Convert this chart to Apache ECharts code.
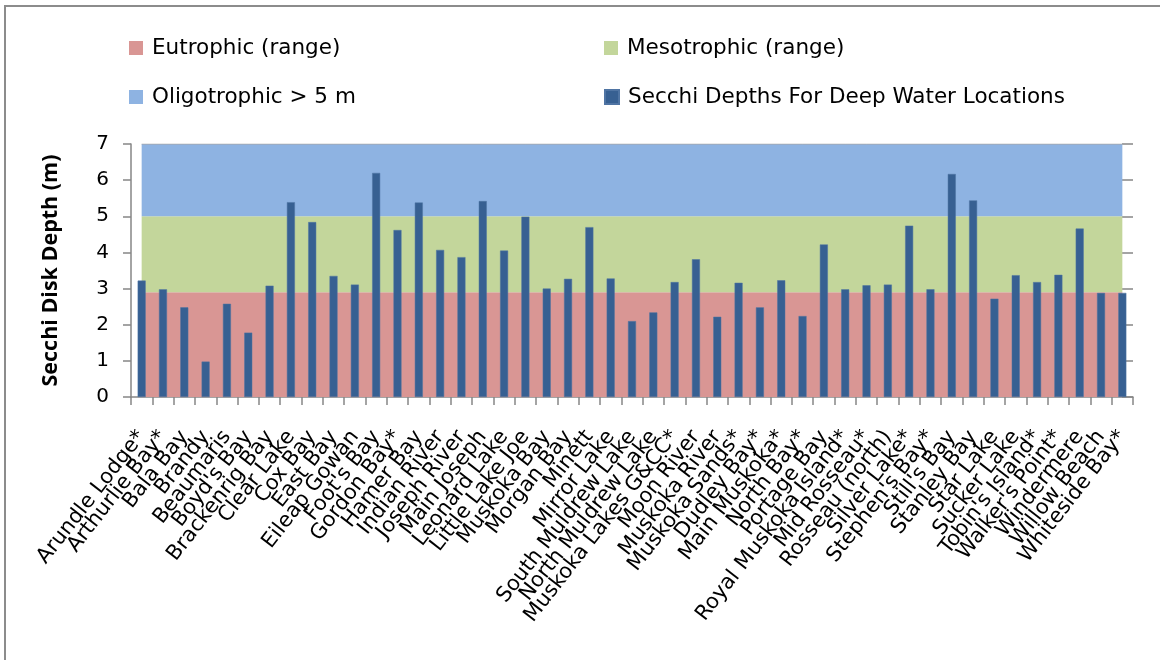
<!DOCTYPE html>
<html>
<head>
<meta charset="utf-8">
<script src="https://cdn.jsdelivr.net/npm/echarts@6/dist/echarts.min.js"></script>
<style>html,body{margin:0;padding:0;background:#fff;}#c{width:1160px;height:660px;}</style>
</head>
<body>
<div id="c"></div>
<script>
const categories = ["Arundle Lodge*","Arthurlie Bay*","Bala Bay","Brandy","Beaumaris","Boyd's Bay","Brackenrig Bay","Clear Lake","Cox Bay","East Bay","Eileap Gowan","Foot's Bay","Gordon Bay*","Hamer Bay","Indian River","Joseph River","Main Joseph","Leonard Lake","Little Lake Joe","Muskoka Bay","Morgan Bay","Minett","Mirror Lake","South Muldrew Lake","North Muldrew Lake","Muskoka Lakes G&CC*","Moon River","Muskoka River","Muskoka Sands*","Dudley Bay*","Main Muskoka*","North Bay*","Portage Bay","Royal Muskoka Island*","Mid Rosseau*","Rosseau (north)","Silver Lake*","Stephen's Bay*","Still's Bay","Stanley Bay","Star Lake","Sucker Lake","Tobin's Island*","Walker's Point*","Windermere","Willow Beach","Whiteside Bay*"];
const secchi = [3.22,2.98,2.48,0.98,2.58,1.78,3.08,5.39,4.84,3.35,3.11,6.2,4.62,5.38,4.07,3.87,5.42,4.05,4.99,3.0,3.27,4.7,3.28,2.1,2.34,3.18,3.81,2.22,3.16,2.48,3.23,2.24,4.22,2.98,3.09,3.11,4.74,2.98,6.17,5.44,2.72,3.37,3.18,3.38,4.66,2.88,2.88];
const eutrophicTop = 2.9;
const mesotrophicTop = 5.0;
const oligotrophicTop = 7.0;
const yTicks = {min: 0, max: 7, interval: 1};
const seriesNames = ["Eutrophic (range)","Mesotrophic (range)","Oligotrophic > 5 m","Secchi Depths For Deep Water Locations"];

const eutro = categories.map(() => eutrophicTop);
const meso = categories.map(() => +(mesotrophicTop - eutrophicTop).toFixed(2));
const oligo = categories.map(() => +(oligotrophicTop - mesotrophicTop).toFixed(2));

const colors = ['#d99694', '#c3d69b', '#8eb3e2', '#376092'];
const FONT = 'DejaVu Sans';

function legendAt(name, left, top) {
  return {
    data: [{name: name, icon: 'rect'}],
    left: left, top: top, itemWidth: 14, itemHeight: 14,
    textStyle: {fontFamily: FONT, fontSize: 21.5, color: '#000', lineHeight: 22, padding: [0,0,0,4]},
    selectedMode: false
  };
}

const chart = echarts.init(document.getElementById('c'), null, {renderer: 'canvas'});
chart.setOption({
  animation: false,
  backgroundColor: '#fff',
  color: colors,
  graphic: [{type: 'rect', shape: {x: 5, y: 6, width: 1170, height: 670}, style: {fill: 'none', stroke: '#8c8c8c', lineWidth: 2}, silent: true}],
  legend: [
    legendAt(seriesNames[0], 124, 32),
    legendAt(seriesNames[1], 599, 32),
    legendAt(seriesNames[2], 124, 81),
    legendAt(seriesNames[3], 599, 81)
  ],
  grid: {left: 131, right: 27, top: 144, bottom: 263, containLabel: false},
  xAxis: {
    type: 'category', data: categories, boundaryGap: true,
    axisLine: {lineStyle: {color: '#868686', width: 1.5}},
    axisTick: {show: true, alignWithLabel: false, length: 8, lineStyle: {color: '#868686', width: 1.5}},
    axisLabel: {interval: 0, rotate: 52, margin: 36, fontFamily: FONT, fontSize: 21, color: '#000'}
  },
  yAxis: [{
    type: 'value', min: yTicks.min, max: yTicks.max, interval: yTicks.interval,
    name: 'Secchi Disk Depth (m)', nameLocation: 'middle', nameGap: 69,
    nameTextStyle: {fontFamily: 'Open Sans', fontSize: 21.5, fontWeight: 'bold', color: '#000'},
    axisLine: {show: true, lineStyle: {color: '#868686', width: 1.5}},
    axisTick: {show: true, length: 8, lineStyle: {color: '#868686', width: 1.5}},
    axisLabel: {margin: 22, fontFamily: FONT, fontSize: 20, color: '#000'},
    splitLine: {show: false}
  }, {
    type: 'value', position: 'right', min: yTicks.min, max: yTicks.max, interval: yTicks.interval,
    axisLine: {show: false},
    axisTick: {show: true, inside: true, length: 11, lineStyle: {color: '#868686', width: 1.5}},
    axisLabel: {show: false}, splitLine: {show: false}
  }],
  series: [
    {name: seriesNames[0], type: 'line', stack: 'bands', data: eutro, showSymbol: false, symbol: 'none',
     lineStyle: {width: 0}, areaStyle: {color: colors[0], opacity: 1}, itemStyle: {color: colors[0]}, z: 1},
    {name: seriesNames[1], type: 'line', stack: 'bands', data: meso, showSymbol: false, symbol: 'none',
     lineStyle: {width: 0}, areaStyle: {color: colors[1], opacity: 1}, itemStyle: {color: colors[1]}, z: 1},
    {name: seriesNames[2], type: 'line', stack: 'bands', data: oligo, showSymbol: false, symbol: 'none',
     lineStyle: {width: 1, color: '#a6a6a6'}, areaStyle: {color: colors[2], opacity: 1}, itemStyle: {color: colors[2]}, z: 1},
    {name: seriesNames[3], type: 'bar', data: secchi, barWidth: 8,
     itemStyle: {color: colors[3], borderColor: '#4f74a3', borderWidth: 0.5}, z: 3}
  ]
});
</script>
</body>
</html>
